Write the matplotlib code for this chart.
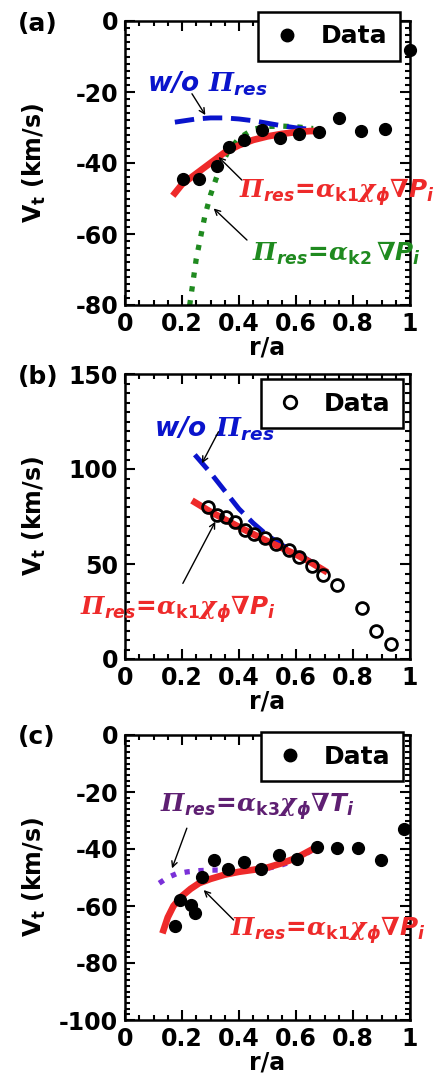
import matplotlib
matplotlib.use('Agg')
import matplotlib.pyplot as plt
from matplotlib.ticker import MultipleLocator
import numpy as np

plt.rcParams['font.family'] = 'DejaVu Sans'
plt.rcParams['font.weight'] = 'bold'
plt.rcParams['axes.unicode_minus'] = False
plt.rcParams['mathtext.fontset'] = 'custom'
plt.rcParams['mathtext.it'] = 'DejaVu Sans:italic:bold'
plt.rcParams['mathtext.rm'] = 'DejaVu Sans:bold'
plt.rcParams['mathtext.bf'] = 'DejaVu Sans:bold'
plt.rcParams['mathtext.sf'] = 'DejaVu Serif:italic'

# ---- panel (a) ----
a_data_r = [0.203, 0.26, 0.322, 0.364, 0.419, 0.481, 0.544, 0.61, 0.68,
            0.752, 0.827, 0.911, 1.0]
a_data_v = [-44.6, -44.6, -40.8, -35.5, -33.6, -30.8, -33.0, -31.9, -31.4,
            -27.3, -31.0, -30.3, -8.1]
a_red_r = [0.175, 0.2, 0.25, 0.3, 0.35, 0.4, 0.45, 0.5, 0.55, 0.6, 0.65, 0.685]
a_red_v = [-48.5, -46.0, -43.0, -40.0, -37.0, -35.0, -33.5, -32.5, -31.8,
           -31.3, -31.0, -31.0]
a_blue_r = [0.175, 0.25, 0.3, 0.35, 0.4, 0.45, 0.5, 0.55, 0.6, 0.66]
a_blue_v = [-28.5, -27.6, -27.3, -27.3, -27.6, -28.1, -28.8, -29.5, -30.1,
            -30.6]
a_green_r = [0.22, 0.25, 0.28, 0.3, 0.33, 0.36, 0.4, 0.45, 0.5, 0.55, 0.6,
             0.66]
a_green_v = [-84.0, -67.0, -55.0, -49.0, -42.0, -37.0, -33.0, -30.5, -29.7,
             -29.6, -29.8, -30.3]

# ---- panel (b) ----
b_data_r = [0.291, 0.322, 0.353, 0.387, 0.422, 0.454, 0.492, 0.53, 0.575,
            0.612, 0.655, 0.694, 0.743, 0.833, 0.881, 0.933]
b_data_v = [80.2, 75.8, 74.9, 71.9, 67.9, 65.8, 63.5, 60.5, 57.4, 53.5, 48.9,
            44.2, 38.9, 26.7, 14.9, 7.9]
b_red_r = [0.245, 0.3, 0.35, 0.4, 0.45, 0.5, 0.55, 0.6, 0.65, 0.7]
b_red_v = [82.5, 77.5, 73.5, 69.5, 65.7, 62.0, 58.5, 55.0, 51.0, 46.5]
b_blue_r = [0.245, 0.3, 0.35, 0.4, 0.45, 0.5, 0.55, 0.6, 0.65, 0.69]
b_blue_v = [107.5, 98.0, 88.5, 79.0, 71.5, 65.0, 60.0, 56.0, 51.5, 47.5]

# ---- panel (c) ----
c_data_r = [0.176, 0.194, 0.231, 0.244, 0.27, 0.311, 0.36, 0.416, 0.477,
            0.539, 0.603, 0.675, 0.745, 0.819, 0.898, 0.98]
c_data_v = [-66.9, -57.9, -59.6, -62.3, -49.7, -43.9, -47.0, -44.7, -47.0,
            -42.0, -43.6, -39.2, -39.8, -39.6, -43.9, -33.1]
c_red_r = [0.135, 0.15, 0.17, 0.2, 0.23, 0.26, 0.3, 0.35, 0.4, 0.45, 0.5,
           0.55, 0.6, 0.65]
c_red_v = [-68.5, -64.0, -60.0, -56.5, -54.0, -52.0, -50.5, -49.0, -48.0,
           -47.3, -46.5, -45.0, -43.2, -40.5]
c_purple_r = [0.12, 0.15, 0.18, 0.22, 0.26, 0.3, 0.35, 0.4, 0.45, 0.5, 0.55,
              0.6, 0.655]
c_purple_v = [-52.0, -50.0, -48.7, -48.0, -47.6, -47.4, -47.4, -47.5, -47.4,
              -46.8, -45.6, -43.8, -40.5]

x_ticks = [0, 0.2, 0.4, 0.6, 0.8, 1]
x_ticklabels = ['0', '0.2', '0.4', '0.6', '0.8', '1']

RED = '#ee2a2a'
BLUE = '#0a14cc'
GREEN = '#1f8a1f'
PURPLE_LINE = '#7a30d8'
PURPLE_TEXT = '#5e1f72'

PK1 = (r'$\mathsf{\Pi}_{res}$=$\mathsf{\alpha}_{\mathrm{k1}}'
       r'\mathsf{\chi}_{\phi}\mathsf{\nabla}P_{i}$')
PK2 = r'$\mathsf{\Pi}_{res}$=$\mathsf{\alpha}_{\mathrm{k2}}\,\mathsf{\nabla}P_{i}$'
PK3 = (r'$\mathsf{\Pi}_{res}$=$\mathsf{\alpha}_{\mathrm{k3}}'
       r'\mathsf{\chi}_{\phi}\mathsf{\nabla}T_{i}$')
WO = r'w/o $\mathsf{\Pi}_{res}$'

FS = 17
TXT = 17.8
WO_FS = 19


def style_axes(ax, ylim, yminor, yticks):
    ax.set_xlim(0, 1)
    ax.set_ylim(*ylim)
    ax.set_xticks(x_ticks)
    ax.set_xticklabels(x_ticklabels)
    ax.xaxis.set_minor_locator(MultipleLocator(0.05))
    ax.set_yticks(yticks)
    ax.set_yticklabels([str(t) for t in yticks])
    ax.yaxis.set_minor_locator(MultipleLocator(yminor))
    ax.tick_params(which='both', direction='in', top=True, right=True,
                   width=1.5, labelsize=FS)
    ax.tick_params(which='major', length=7, pad=5)
    ax.tick_params(which='minor', length=3.5)
    for sp in ax.spines.values():
        sp.set_linewidth(1.8)
    ax.set_xlabel('r/a', fontsize=FS, fontweight='bold', labelpad=0)
    ax.set_ylabel(r'V$_\mathrm{t}$ (km/s)', fontsize=FS, fontweight='bold')
    ax.yaxis.set_label_coords(-0.27, 0.5)


def arrow(ax, tail, tip):
    ax.annotate('', xy=tip, xytext=tail,
                arrowprops=dict(arrowstyle='->', color='black', lw=1.0,
                                shrinkA=0, shrinkB=0))


def legend(ax, filled, anchor):
    if filled:
        h, = ax.plot([], [], 'o', color='black', markersize=9)
    else:
        h, = ax.plot([], [], 'o', mfc='white', mec='black', mew=2,
                     markersize=9)
    leg = ax.legend([h], ['Data'], loc='upper right', bbox_to_anchor=anchor,
                    fancybox=False, edgecolor='black', framealpha=1,
                    prop={'size': 18, 'weight': 'bold'}, handletextpad=0.7,
                    borderpad=0.5, handlelength=1.3, borderaxespad=0)
    leg.get_frame().set_linewidth(1.8)


fig = plt.figure(figsize=(4.41, 10.9), dpi=100)
W, H = 441.0, 1090.0

# ---------- (a) ----------
ax = fig.add_axes([125 / W, 1 - 305 / H, 285 / W, 284 / H])
ax.plot(a_green_r, a_green_v, ':', color=GREEN, lw=3.8, zorder=2)
ax.plot(a_blue_r, a_blue_v, '--', color=BLUE, lw=3.5, dashes=(4, 1.8),
        zorder=2)
ax.plot(a_red_r, a_red_v, '-', color=RED, lw=4.8, zorder=3)
ax.plot(a_data_r, a_data_v, 'o', color='black', markersize=8.5, zorder=4,
        clip_on=False)
style_axes(ax, (-80, 0), 2, [0, -20, -40, -60, -80])
ax.text(0.077, -17.6, WO, color=BLUE, fontsize=WO_FS, fontweight='bold',
        style='italic', va='center')
arrow(ax, (0.235, -20.5), (0.282, -26.5))
ax.text(0.4, -48.1, PK1, color=RED, fontsize=TXT, va='center',
        clip_on=False)
arrow(ax, (0.41, -44.8), (0.328, -38.3))
ax.text(0.445, -65.5, PK2, color=GREEN, fontsize=TXT, va='center')
arrow(ax, (0.428, -61.7), (0.311, -52.8))
legend(ax, True, (0.965, 1.032))
fig.text(18 / W, 1 - 24 / H, '(a)', fontsize=18, fontweight='bold',
         va='center')

# ---------- (b) ----------
ax = fig.add_axes([125 / W, 1 - 659 / H, 285 / W, 285 / H])
ax.plot(b_blue_r, b_blue_v, '--', color=BLUE, lw=3.5, dashes=(4, 1.8),
        zorder=2)
ax.plot(b_red_r, b_red_v, '-', color=RED, lw=4.8, zorder=3)
ax.plot(b_data_r, b_data_v, 'o', mfc='none', mec='black', mew=2,
        markersize=8.5, zorder=4)
style_axes(ax, (0, 150), 5, [0, 50, 100, 150])
ax.text(0.1, 121.4, WO, color=BLUE, fontsize=WO_FS, fontweight='bold',
        style='italic', va='center')
arrow(ax, (0.328, 119.6), (0.27, 103.0))
ax.text(-0.157, 26.7, PK1, color=RED, fontsize=TXT, va='center')
arrow(ax, (0.203, 39.8), (0.317, 72.3))
legend(ax, False, (0.975, 0.982))
fig.text(18 / W, 1 - 377 / H, '(b)', fontsize=18, fontweight='bold',
         va='center')

# ---------- (c) ----------
ax = fig.add_axes([125 / W, 1 - 1020 / H, 285 / W, 285 / H])
ax.plot(c_purple_r, c_purple_v, ':', color=PURPLE_LINE, lw=3.8, zorder=2)
ax.plot(c_red_r, c_red_v, '-', color=RED, lw=4.8, zorder=3)
ax.plot(c_data_r, c_data_v, 'o', color='black', markersize=8.5, zorder=4,
        clip_on=False)
style_axes(ax, (-100, 0), 2, [0, -20, -40, -60, -80, -100])
ax.text(0.124, -24.6, PK3, color=PURPLE_TEXT, fontsize=TXT, va='center')
arrow(ax, (0.217, -32.7), (0.165, -46.8))
ax.text(0.369, -68.4, PK1, color=RED, fontsize=TXT, va='center',
        clip_on=False)
arrow(ax, (0.381, -64.9), (0.276, -54.4))
legend(ax, True, (0.975, 1.01))
fig.text(18 / W, 1 - 737 / H, '(c)', fontsize=18, fontweight='bold',
         va='center')

fig.savefig('out.png', dpi=100)
